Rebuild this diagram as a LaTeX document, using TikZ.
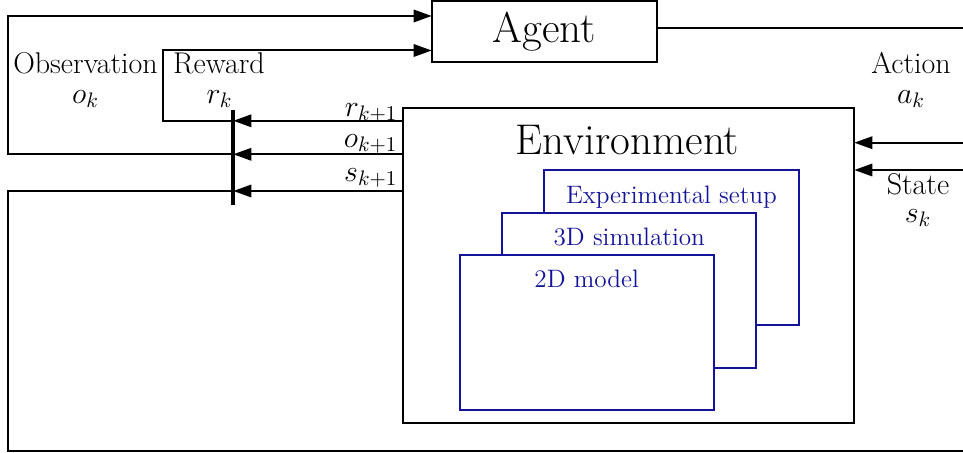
\RequirePackage{fix-cm}
\documentclass[tikz,border=0pt]{standalone}
\usetikzlibrary{arrows.meta}
\definecolor{myblue}{RGB}{20,20,155}
\begin{document}
\begin{tikzpicture}[x=0.5pt,y=-0.5pt,line width=1pt,
  tip/.style={-{Triangle[length=9pt,width=6.2pt]}},
  box/.style={draw=black, line width=1pt, inner sep=0pt, outer sep=0pt},
  bluebox/.style={draw=myblue, fill=white, line width=1pt, minimum width=127.1pt, minimum height=77.4pt, inner sep=0pt, outer sep=0pt},
  lbl/.style={font=\fontsize{15}{18}\selectfont, inner sep=0pt},
  big/.style={font=\fontsize{21.5}{26}\selectfont, inner sep=0pt},
  blu/.style={font=\fontsize{12.6}{15}\selectfont, text=myblue, inner sep=0pt}]
\useasboundingbox (0,0) rectangle (963,453);

% main boxes
\node[box, big, minimum width=112.8pt, minimum height=30.25pt] (agent) at (544.5,31.75) {Agent};
\node[box, minimum width=225.65pt, minimum height=157.6pt] (env) at (628.65,265.9) {};
\node[big, anchor=base] (envT) at (627.5,155) {Environment};

% blue stacked boxes
\node[bluebox] (exp) at (671.45,247.85) {};
\node[blu, anchor=base] (expT) at (671.45,203.3) {Experimental setup};
\node[bluebox] (sim) at (629.25,290.2) {};
\node[blu, anchor=base] (simT) at (629.25,245.7) {3D simulation};
\node[bluebox] (mod) at (586.7,332.5) {};
\node[blu, anchor=base] (modT) at (586.7,287.3) {2D model};

% coordinates
\coordinate (yR) at (0,120.8);
\coordinate (yO) at (0,154.3);
\coordinate (yS) at (0,191);
\coordinate (bartop) at (233.3,110);
\coordinate (barbot) at (233.3,205);
\coordinate (rc) at (163.3,120.8);
\coordinate (rt) at (163.3,50.5);
\coordinate (oc) at (8.3,154.3);
\coordinate (ot) at (8.3,16);
\coordinate (sc) at (8.3,191);
\coordinate (sb) at (8.3,451);
\coordinate (se) at (963,451);
\coordinate (ae) at (963,28.3);
\coordinate (e1) at (963,142.7);
\coordinate (e2) at (963,170);

% connectors
\draw[tip] (env.west |- yR) -- (bartop |- yR);
\draw[tip] (bartop |- yR) -- (rc) -- (rt) -- (agent.west |- rt);
\draw[tip] (env.west |- yO) -- (bartop |- yO);
\draw[tip] (bartop |- yO) -- (oc) -- (ot) -- (agent.west |- ot);
\draw[tip] (env.west |- yS) -- (bartop |- yS);
\draw (bartop |- yS) -- (sc) -- (sb) -- (se);
\draw (agent.east |- ae) -- (ae);
\draw[tip] (e1) -- (env.east |- e1);
\draw[tip] (e2) -- (env.east |- e2);
\draw[line width=2pt] (bartop) -- (barbot);

% labels
\node[lbl, anchor=base] (obs) at (85.5,74) {Observation};
\node[lbl, anchor=base] (ok) at (85.5,103.5) {$o_k$};
\node[lbl, anchor=base] (rew) at (219,74) {Reward};
\node[lbl, anchor=base] (rk) at (219.5,103.5) {$r_k$};
\node[lbl, anchor=base] (act) at (911,73.3) {Action};
\node[lbl, anchor=base] (ak) at (911,103.5) {$a_k$};
\node[lbl, anchor=base] (st) at (918,195) {State};
\node[lbl, anchor=base] (sk) at (918,222.5) {$s_k$};
\node[lbl, anchor=base east] (rk1) at (398.5,116.5) {$r_{k+1}$};
\node[lbl, anchor=base east] (ok1) at (398.5,147.5) {$o_{k+1}$};
\node[lbl, anchor=base east] (sk1) at (398.5,181.5) {$s_{k+1}$};
\end{tikzpicture}
\end{document}
